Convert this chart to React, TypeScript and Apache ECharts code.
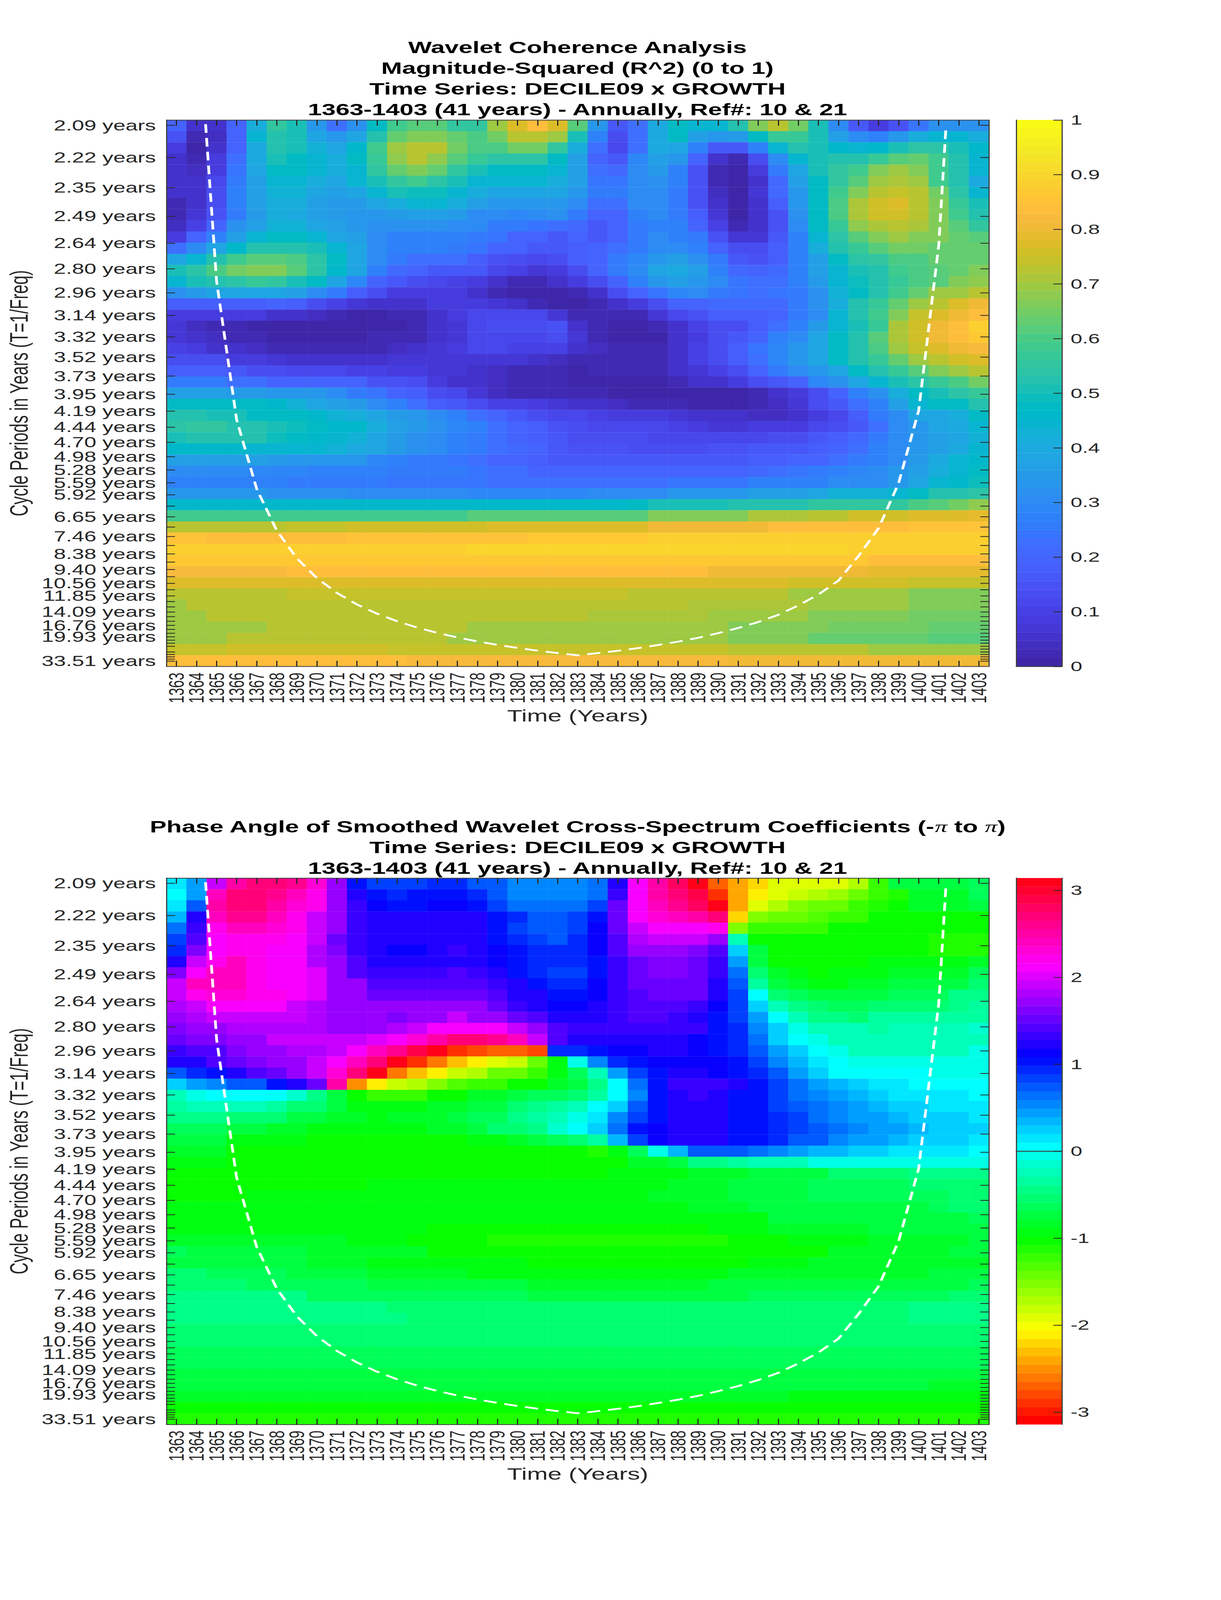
import React, { useEffect, useRef } from "react";
import * as echarts from "echarts";

const r = (v: number, n: number): number[] => Array(n).fill(v);

const years = Array.from({ length: 41 }, (_, i) => String(1363 + i));
const BASE_PERIOD = 2.0944;
const rowCount = 49;
const periodLabels: Record<number, string> = {
  0: "2.09 years", 1: "2.22 years", 2: "2.35 years", 3: "2.49 years", 4: "2.64 years", 5: "2.80 years",
  6: "2.96 years", 7: "3.14 years", 8: "3.32 years", 9: "3.52 years", 10: "3.73 years", 11: "3.95 years",
  12: "4.19 years", 13: "4.44 years", 14: "4.70 years", 15: "4.98 years", 16: "5.28 years", 17: "5.59 years",
  18: "5.92 years", 20: "6.65 years", 22: "7.46 years", 24: "8.38 years", 26: "9.40 years", 28: "10.56 years",
  30: "11.85 years", 33: "14.09 years", 36: "16.76 years", 39: "19.93 years", 43: "25.10 years", 48: "33.51 years",
};
const FREQ_MIN = 0.0254;
const FREQ_MAX = 0.4819;

const coiYears = [1364.45, 1365, 1366, 1367, 1368, 1369, 1370, 1371, 1372, 1373, 1374, 1375, 1376, 1377, 1378, 1379, 1380, 1381, 1382, 1383,
  1384, 1385, 1386, 1387, 1388, 1389, 1390, 1391, 1392, 1393, 1394, 1395, 1396, 1397, 1398, 1399, 1400, 1401, 1401.36];
const coiPeriods = [2.09, 2.88, 4.32, 5.76, 7.2, 8.64, 10.08, 11.52, 12.96, 14.4, 15.84, 17.28, 18.72, 20.16, 21.6, 23.04, 24.48, 25.92, 27.36, 28.8,
  27.4, 26, 24.6, 23.1, 21.7, 20.3, 18.8, 17.4, 16, 14.6, 13.1, 11.7, 10.3, 8.5, 7.1, 5.6, 4.18, 2.65, 2.1];

const coherencePct: number[][] = [
  [20,5,5,20,42,56,50,33,22,32,47,58,62,62,56,56,69,77,83,77,62,33,17,23,40,48,45,45,53,67,72,65,50,30,16,8,15,24,32,32,32],
  [15,3,4,20,44,52,50,38,33,39,52,64,67,67,63,60,65,72,73,69,50,28,14,22,40,47,37,33,35,48,57,57,50,37,30,27,33,41,45,45,41],
  [8,1,5,20,40,52,51,43,39,46,58,69,72,72,65,60,60,65,65,56,42,22,12,22,40,38,27,17,17,27,44,52,50,46,44,46,50,54,54,50,46],
  [6,2,8,22,40,50,48,45,41,48,57,68,72,68,62,57,54,54,54,48,36,19,17,29,37,33,20,6,2,14,31,45,50,52,53,57,62,64,58,53,45],
  [6,4,8,24,38,47,47,44,41,45,55,63,66,63,56,51,48,48,48,44,36,23,21,30,35,28,15,3,0,8,25,39,50,55,59,66,70,67,58,53,44],
  [6,5,12,26,37,44,44,41,39,44,50,55,58,54,50,45,44,44,44,42,36,24,24,30,32,27,15,3,0,5,21,37,48,55,62,70,71,70,58,53,40],
  [5,6,13,28,37,43,43,39,36,39,45,50,49,49,45,42,39,39,39,38,34,25,25,30,31,25,15,4,1,7,21,34,48,58,67,72,74,72,65,54,45],
  [2,5,14,27,36,42,41,37,35,35,38,42,45,45,42,37,34,34,34,34,30,22,22,30,31,26,15,6,1,5,18,34,48,60,71,75,77,73,66,57,50],
  [2,7,15,26,35,41,40,37,35,33,34,35,36,36,35,31,30,29,30,32,25,19,20,27,30,26,18,7,1,5,15,32,48,60,71,75,75,73,66,59,53],
  [4,10,19,32,37,43,43,39,36,33,32,32,32,32,31,30,26,25,24,23,21,17,19,25,28,27,20,10,3,5,15,30,47,57,68,71,73,71,67,61,56],
  [9,19,27,36,44,47,47,44,39,36,31,28,28,28,27,26,24,20,20,17,19,17,20,25,30,28,25,15,7,7,16,28,44,54,62,67,69,67,66,63,61],
  [22,30,38,46,52,53,52,50,44,38,31,28,27,27,25,24,20,19,17,16,18,20,23,26,30,31,28,20,13,13,18,28,41,52,57,62,65,65,63,63,63],
  [38,45,52,58,62,62,60,54,47,38,30,25,22,22,22,18,15,13,12,13,18,20,25,29,34,37,32,25,17,15,18,28,37,48,54,56,60,60,63,63,63],
  [50,54,60,65,67,66,61,54,46,38,28,21,19,17,17,17,12,10,7,9,13,19,25,31,38,40,36,28,21,19,21,28,36,45,50,53,58,60,61,63,66],
  [45,50,52,54,57,55,51,48,38,29,20,16,13,11,10,8,5,3,3,5,9,14,19,27,33,37,34,30,24,23,23,28,35,45,49,53,57,60,62,66,68],
  [32,35,39,39,39,39,36,30,25,18,13,9,8,8,8,6,3,1,0,0,3,6,13,19,24,29,31,26,24,23,24,26,32,43,48,53,58,63,69,70,73],
  [18,18,18,18,18,19,18,14,10,7,5,5,5,8,8,8,7,5,2,1,1,2,5,9,14,19,20,21,21,21,21,25,32,42,52,57,64,70,73,77,80],
  [9,9,9,9,8,6,6,4,2,1,1,2,3,6,9,11,12,12,11,7,3,2,2,3,7,12,15,18,18,18,20,25,31,44,52,58,67,74,78,81,84],
  [7,4,3,2,1,1,0,0,0,0,0,1,2,5,7,11,13,13,14,15,6,3,1,1,3,6,10,14,14,18,23,28,35,44,51,57,71,76,81,84,88],
  [7,6,4,3,2,1,0,0,0,0,2,3,3,6,7,12,12,12,12,13,7,3,1,1,0,5,9,13,17,20,27,30,39,47,52,62,71,76,81,84,87],
  [10,9,6,5,4,3,2,2,2,3,3,4,6,7,9,11,11,10,10,10,5,4,2,2,2,6,10,14,18,24,29,34,39,48,53,60,69,74,77,80,82],
  [13,13,13,9,8,7,6,6,6,6,6,7,7,7,7,7,7,7,6,4,3,3,3,3,3,6,10,13,18,23,29,33,39,47,53,57,64,69,72,76,77],
  [18,18,18,16,14,14,12,12,12,10,10,9,9,7,7,5,4,3,3,2,1,2,2,2,2,5,7,10,13,19,25,31,33,39,47,52,57,62,67,70,72],
  [26,26,26,23,23,20,20,20,19,19,15,15,14,8,6,6,4,3,3,2,1,1,1,1,1,3,5,6,9,13,17,20,29,32,39,45,50,54,57,60,65],
  [37,37,37,35,35,33,33,33,30,26,24,20,18,14,11,7,4,3,3,2,2,2,1,1,1,1,0,1,1,3,6,9,14,20,28,32,41,47,51,54,57],
  [47,48,48,47,47,46,43,39,36,35,31,28,23,18,16,13,10,10,8,7,6,5,4,3,2,2,1,1,1,2,4,7,13,17,22,28,36,44,47,47,53],
  [53,53,50,50,48,48,48,46,43,41,38,35,33,30,27,23,20,17,14,12,11,10,9,9,8,7,6,5,5,4,4,6,9,12,18,25,31,38,39,42,48],
  [54,55,55,53,52,50,49,47,46,46,42,37,35,32,29,27,22,20,18,15,13,12,12,12,11,10,9,7,7,9,9,9,12,14,17,22,30,34,38,40,44],
  [50,53,53,52,52,49,47,46,45,43,38,35,32,30,27,25,22,20,18,16,14,13,13,13,12,11,11,11,11,12,13,14,16,18,21,25,30,33,36,38,43],
  [46,46,46,46,45,45,45,45,43,40,38,35,32,30,28,25,22,21,19,17,15,15,15,14,14,14,14,15,15,16,16,17,18,20,23,27,31,34,37,40,44],
  [36,36,36,36,36,35,34,34,33,33,29,27,26,25,24,22,20,19,18,16,16,16,16,16,16,16,16,16,17,18,18,19,20,22,25,28,30,35,40,44,46],
  [30,30,30,30,29,29,29,28,27,27,27,26,26,26,26,24,23,22,20,20,20,20,19,19,19,19,19,20,20,21,22,24,26,27,29,31,33,37,42,45,47],
  [...r(28,6),...r(26,5),...r(24,5),...r(23,9),...r(24,4),...r(27,4),...r(31,3),34,38,45,46,49],
  [...r(33,5),...r(32,4),...r(31,6),...r(29,6),...r(30,4),...r(33,4),...r(36,3),39,...r(43,3),45,48,52,53,54],
  [...r(46,23),48,...r(50,4),...r(53,4),...r(55,3),...r(56,2),60,62,65,68],
  [...r(58,3),...r(59,12),...r(61,4),...r(62,5),...r(66,3),...r(67,2),...r(71,3),...r(73,2),...r(75,3),...r(77,3),79],
  [...r(73,6),...r(74,3),...r(76,7),...r(78,8),...r(80,3),...r(81,3),...r(83,4),...r(84,3),...r(85,4)],
  [...r(85,2),...r(83,7),...r(85,9),...r(86,6),...r(88,17)],
  [...r(89,15),...r(90,19),...r(88,7)],
  [...r(87,27),...r(86,8),...r(84,6)],
  [...r(82,6),...r(84,21),...r(81,8),...r(79,6)],
  [...r(77,3),...r(78,28),...r(76,6),...r(74,4)],
  [...r(72,6),...r(74,17),...r(72,8),...r(70,6),...r(67,4)],
  [70,...r(72,25),...r(71,6),...r(69,5),...r(66,4)],
  [...r(69,2),...r(72,19),...r(71,6),...r(70,5),...r(67,5),...r(65,4)],
  [...r(70,5),...r(72,10),...r(70,8),...r(69,5),...r(67,5),...r(65,5),...r(63,3)],
  [...r(70,3),...r(72,11),...r(70,8),...r(69,6),...r(67,4),...r(63,6),...r(61,3)],
  [...r(74,3),...r(76,8),...r(74,17),...r(72,7),...r(70,6)],
  [...r(84,12),...r(82,16),...r(81,13)],
];

const phaseRows: number[][] = [
  [.13,.42,1.88,2.5,2.72,2.72,2.65,2.3,1.68,1.05,.84,.84,.84,.91,.91,.77,.72,.52,.52,.52,.52,.63,1.26,2.09,2.5,2.8,3.14,-2.72,-2.37,-2.23,-1.95,-1.88,-1.88,-1.88,-1.75,-1.26,-.77,-.77,-.77,-.77,-.63],
  [0,.42,2.4,2.72,2.72,2.6,2.44,2.2,1.68,1.26,1.05,.98,1.05,1.05,1.05,.9,.77,.56,.52,.52,.52,.63,1.33,2.09,2.5,2.72,2.93,-2.86,-2.37,-2.09,-1.88,-1.78,-1.68,-1.6,-1.47,-1.26,-1.1,-.8,-.8,-.8,-.65],
  [.13,.77,2.5,2.72,2.72,2.5,2.3,2.2,1.68,1.33,1.12,1.05,1.05,1.15,1.15,1.05,.84,.63,.6,.6,.6,.84,1.57,2.09,2.44,2.6,2.8,3.14,-2.37,-1.88,-1.68,-1.57,-1.47,-1.4,-1.26,-1.1,-1.05,-.85,-.85,-.85,-.72],
  [.35,1.19,2.37,2.6,2.6,2.44,2.2,1.95,1.68,1.33,1.19,1.19,1.19,1.19,1.19,1.19,1.05,.91,.7,.7,.84,1.05,1.57,2.09,2.3,2.44,2.5,2.72,-2.23,-1.57,-1.47,-1.4,-1.3,-1.26,-1.2,-1.05,-1.05,-1.02,-1.02,-1.02,-1],
  [.63,1.33,2.22,2.44,2.44,2.3,2.2,1.88,1.68,1.33,1.19,1.19,1.19,1.26,1.26,1.2,1.05,.84,.77,.77,.84,1.12,1.52,1.88,2.09,2.09,2.09,2.22,-1.57,-1.2,-1.2,-1.2,-1.2,-1.05,-1.05,-1.05,-1.05,-1.05,-1.05,-1.05,-1.05],
  [.84,1.4,2.09,2.2,2.2,2.2,2.09,1.88,1.5,1.3,1.19,1.19,1.19,1.25,1.25,1.25,1.05,.98,.84,.77,.9,1.15,1.47,1.8,1.88,1.88,1.88,1.68,-.2,-1.05,-1.05,-1.05,-1.05,-1.05,-1.05,-1.05,-1.05,-1.05,-1.08,-1.1,-1.1],
  [.91,1.6,2.09,2.2,2.2,2.09,2.09,1.83,1.63,1.33,1.2,1.15,1.15,1.2,1.33,1.26,1.12,1.05,.91,.91,.91,1.15,1.44,1.68,1.75,1.75,1.6,1.44,.2,-.77,-1.05,-1.05,-1.05,-1.05,-1.05,-1.05,-1.05,-1.05,-1.08,-1.08,-1.08],
  [1.19,1.95,2.22,2.44,2.2,2.09,2.09,1.83,1.68,1.4,1.19,1.19,1.19,1.26,1.26,1.26,1.12,1.05,.91,.91,.91,1.05,1.3,1.52,1.63,1.63,1.52,1.33,.42,-.7,-1,-1.05,-1.05,-1.05,-1.05,-.95,-.95,-.95,-.95,-.98,-.84],
  [1.6,2.09,2.44,2.44,2.2,2.09,2.09,2,1.75,1.47,1.3,1.3,1.3,1.3,1.4,1.33,1.19,1.05,.98,.84,.84,1.05,1.3,1.5,1.63,1.63,1.52,1.33,.63,-.52,-.85,-.95,-1.05,-.95,-.95,-.95,-.85,-.85,-.85,-.8,-.63],
  [1.95,2.37,2.44,2.44,2.22,2.09,2.09,2,1.75,1.68,1.47,1.47,1.47,1.47,1.47,1.47,1.33,1.19,1.05,.91,.91,1.15,1.33,1.57,1.57,1.57,1.57,1.26,.72,-.35,-.72,-.85,-.93,-.95,-.85,-.85,-.72,-.72,-.72,-.72,-.56],
  [1.95,2.18,2.3,2.3,2.18,2.18,2.09,2,1.75,1.68,1.52,1.52,1.52,1.52,1.52,1.52,1.4,1.26,1.19,1.05,1.05,1.12,1.3,1.44,1.57,1.57,1.5,1.26,.84,0,-.52,-.63,-.7,-.7,-.7,-.7,-.63,-.63,-.63,-.48,-.4],
  [1.83,1.95,2.09,2.09,2.09,2.09,1.95,1.83,1.75,1.68,1.68,1.68,1.68,1.68,1.68,1.68,1.5,1.3,1.22,1.15,1.15,1.22,1.3,1.47,1.47,1.47,1.37,1.15,.84,.2,-.2,-.42,-.52,-.63,-.63,-.52,-.52,-.52,-.52,-.42,-.35],
  [1.75,1.83,1.95,1.95,1.95,1.95,1.95,1.83,1.75,1.75,1.75,1.63,1.75,1.75,1.88,1.75,1.75,1.52,1.44,1.22,1.22,1.26,1.33,1.47,1.47,1.33,1.26,1.05,.84,.42,0,-.2,-.42,-.42,-.52,-.35,-.35,-.35,-.35,-.35,-.35],
  [1.6,1.75,1.75,1.83,1.83,1.83,1.83,1.83,1.7,1.7,1.7,1.83,1.95,2.09,2.15,2.15,2.09,1.88,1.68,1.4,1.3,1.33,1.33,1.33,1.33,1.33,1.33,1.05,.91,.56,.2,-.07,-.2,-.27,-.27,-.38,-.27,-.27,-.27,-.27,-.13],
  [1.5,1.6,1.6,1.75,1.75,1.88,1.88,1.88,1.88,1.88,2.02,2.09,2.3,2.5,2.72,2.72,2.65,2.37,1.88,1.44,1.26,1.26,1.26,1.26,1.26,1.26,1.15,1.05,.91,.63,.28,0,-.07,-.2,-.27,-.27,-.27,-.27,-.27,-.2,-.2],
  [1.3,1.4,1.47,1.6,1.75,1.75,1.83,1.83,1.95,2.09,2.37,2.6,2.9,3.14,-2.9,-2.8,-2.72,-2.72,-2.8,.98,.98,1.05,1.12,1.12,1.25,1.25,1.15,1.05,.91,.77,.42,.2,0,-.08,-.2,-.2,-.2,-.2,-.2,-.2,-.08],
  [1.19,1.26,1.4,1.5,1.6,1.75,1.75,1.95,2.09,2.37,2.72,3.05,-2.86,-2.6,-2.35,-2.15,-1.95,-1.78,-1.4,-.95,-.05,.56,.91,1.05,1.17,1.17,1.17,1.17,1,.84,.56,.35,.13,0,-.07,-.07,-.07,-.07,-.07,-.07,-.07],
  [.77,.91,1.05,1.22,1.4,1.5,1.75,1.95,2.3,2.72,3.14,-2.6,-2.35,-2.09,-1.85,-1.68,-1.47,-1.4,-1.2,-.95,-.63,-.2,.4,.84,1.05,1.26,1.26,1.15,1.05,.91,.77,.42,.2,.07,0,0,0,0,-.07,-.07,-.07],
  [.2,.42,.56,.7,.77,1,1.19,1.52,2.5,-2.55,-2.09,-1.85,-1.68,-1.57,-1.35,-1.26,-1.2,-1.05,-1.05,-.85,-.72,-.42,0,.63,1.05,1.33,1.33,1.33,1.22,1.05,.84,.63,.42,.3,.2,.1,.1,0,0,0,0],
  [-.2,-.07,0,0,0,0,-.13,-.42,-.77,-1.05,-1.2,-1.2,-1.2,-1.05,-1,-.87,-.87,-.77,-.63,-.63,-.5,-.35,0,.52,1,1.19,1.3,1.22,1.05,1.05,.84,.63,.52,.42,.3,.2,.1,.1,.1,.1,0],
  [-.35,-.28,-.28,-.28,-.28,-.35,-.52,-.52,-.77,-.93,-.93,-.93,-.93,-.87,-.87,-.72,-.72,-.52,-.42,-.35,-.2,0,.2,.7,1,1.19,1.19,1.19,1.05,1.05,.84,.77,.63,.52,.42,.35,.2,.2,.1,.1,.1],
  [-.42,-.42,-.42,-.5,-.55,-.55,-.7,-.7,-.87,-.87,-.95,-.87,-.87,-.87,-.72,-.63,-.63,-.42,-.35,-.2,-.05,.1,.52,.84,1.05,1.19,1.19,1.19,1.05,1.05,.91,.84,.63,.52,.42,.42,.35,.2,.2,.2,.1],
  [-.65,-.65,-.65,-.72,-.72,-.87,-.87,-.95,-.95,-.95,-.95,-.95,-.95,-.87,-.87,-.72,-.55,-.55,-.42,-.13,0,.2,.63,1,1.12,1.26,1.26,1.19,1.05,1.05,.91,.84,.77,.63,.56,.42,.42,.35,.22,.22,.22],
  [-.77,-.77,-.77,-.98,-.98,-.98,-.98,...r(-1.05,8),-.93,-.93,-.8,-.7,-.63,-.55,-.35,.35,.84,1.12,1.26,1.26,1.19,1.05,1.05,.98,.77,.7,.56,.45,.45,.35,.22,.22,.22,.1],
  [-.87,-.87,-.87,...r(-1.05,5),...r(-1.07,13),-1.1,-.95,-.63,-.07,.35,.7,.7,.7,.63,.52,.42,.3,.3,.2,.2,.1,.1,.1,.1,0],
  [...r(-.95,3),...r(-1,6),...r(-1.07,14),...r(-.85,2),-.7,...r(-.45,2),-.3,...r(-.2,3),...r(-.08,9)],
  [...r(-1.03,9),...r(-1.05,13),...r(-.95,4),...r(-.8,3),...r(-.7,4),...r(-.55,4),...r(-.45,4)],
  [...r(-1.05,10),...r(-.93,15),...r(-.85,3),...r(-.77,4),...r(-.68,5),...r(-.55,4)],
  [...r(-1.05,4),...r(-.95,20),...r(-.85,4),...r(-.77,4),...r(-.68,4),...r(-.6,3),...r(-.5,2)],
  [...r(-.98,26),...r(-.88,3),...r(-.78,5),...r(-.7,4),-.65,...r(-.55,2)],
  [...r(-.93,5),...r(-.98,23),...r(-.9,2),...r(-.78,8),...r(-.7,2),-.6],
  [...r(-.9,6),...r(-.95,7),...r(-1.05,14),...r(-.98,3),...r(-.85,5),...r(-.75,5),-.7],
  [...r(-.85,9),...r(-.9,3),...r(-1.05,4),...r(-1.1,12),...r(-1,3),...r(-.95,4),...r(-.8,5),-.75],
  [-.62,...r(-.72,3),...r(-.78,3),...r(-.88,6),...r(-1,5),...r(-1.07,11),...r(-1,4),...r(-.85,6),...r(-.77,2)],
  [...r(-.72,4),...r(-.78,3),...r(-.82,3),...r(-.93,8),...r(-1,11),...r(-.93,3),...r(-.8,9)],
  [...r(-.55,2),...r(-.65,4),...r(-.7,4),...r(-.8,5),...r(-.93,13),...r(-.85,6),...r(-.8,4),...r(-.75,3)],
  [...r(-.55,4),...r(-.65,6),...r(-.72,8),...r(-.82,9),...r(-.78,8),...r(-.72,5),-.62],
  [...r(-.48,7),...r(-.62,11),...r(-.72,11),...r(-.62,10),...r(-.55,2)],
  [...r(-.42,11),...r(-.55,26),...r(-.45,4)],
  [...r(-.42,12),...r(-.55,25),...r(-.45,4)],
  r(-.53,41),
  r(-.55,41),
  r(-.67,41),
  r(-.68,41),
  [...r(-.7,30),...r(-.75,11)],
  [...r(-.75,38),...r(-.82,3)],
  [...r(-.82,31),...r(-.9,10)],
  r(-1.02,41),
  r(-1.17,41),
];

const PARULA: number[][] = [
  [.2422,.1504,.6603],[.2504,.165,.7076],[.2578,.1818,.7511],[.2647,.1978,.7952],[.2706,.2147,.8364],[.2751,.2342,.871],[.2783,.2559,.8991],[.2803,.2782,.9221],
  [.2813,.3006,.9414],[.281,.3228,.9579],[.2795,.3447,.9717],[.276,.3667,.9829],[.2699,.3892,.9906],[.2602,.4123,.9952],[.244,.4358,.9988],[.2206,.4603,.9973],
  [.1963,.4847,.9892],[.1834,.5074,.9798],[.1786,.5289,.9682],[.1764,.5499,.952],[.1687,.5703,.9359],[.154,.5902,.9218],[.146,.6091,.9079],[.138,.6276,.8973],
  [.1248,.6459,.8883],[.1113,.6635,.8763],[.0952,.6798,.8598],[.0689,.6948,.8394],[.0297,.7082,.8163],[.0036,.7203,.7917],[.0067,.7312,.766],[.0433,.7411,.7394],
  [.0964,.75,.712],[.1408,.7584,.6842],[.1717,.767,.6554],[.1938,.7758,.6251],[.2161,.7843,.5923],[.247,.7918,.5567],[.2906,.7973,.5188],[.3406,.8008,.4789],
  [.3909,.8029,.4354],[.4456,.8024,.3909],[.5044,.7993,.348],[.5616,.7942,.3045],[.6174,.7876,.2612],[.672,.7793,.2227],[.7242,.7698,.191],[.7738,.7598,.1646],
  [.8203,.7498,.1535],[.8634,.7406,.1596],[.9035,.733,.1774],[.9393,.7288,.21],[.9728,.7298,.2394],[.9956,.7434,.2371],[.997,.7659,.2199],[.9952,.7861,.199],
  [.9892,.8135,.1888],[.9786,.8386,.1766],[.9676,.8639,.1643],[.961,.889,.1537],[.9597,.9135,.1423],[.9628,.9373,.1265],[.9691,.9606,.1064],[.9769,.9839,.0805],
];
const toHex = (c: number[]) => "#" + c.map((v) => Math.round(v * 255).toString(16).padStart(2, "0")).join("");
const parulaColors = PARULA.map(toHex);
const hsvColors = Array.from({ length: 64 }, (_, i) => {
  const h = (i / 64) * 6;
  const x = 1 - Math.abs((h % 2) - 1);
  const t = [[1, x, 0], [x, 1, 0], [0, 1, x], [0, x, 1], [x, 0, 1], [1, 0, x]][Math.floor(h)];
  return toHex(t);
});

const FONT = "Liberation Sans";
const INK = "#262626";
const LINE = { lineStyle: { color: "#404040", width: 3 } };
const PAGE_W = 3125, PAGE_H = 6252;
const PANEL_LEFT = 426, PANEL_W = 2105, BAR_LEFT = 2601, BAR_W = 117, PANEL_H = 2135;
const tops = [469, 3431];

const freqOf = (k: number) => 1 / (BASE_PERIOD * Math.pow(2, k / 12));
const tickFreqs = Array.from({ length: rowCount }, (_, k) => freqOf(k));
const labelFreqs = Object.keys(periodLabels).map((k) => freqOf(Number(k)));
const labelForFreq = (v: number) => {
  for (const k of Object.keys(periodLabels)) {
    if (Math.abs(freqOf(Number(k)) - v) < 1e-6) return periodLabels[Number(k)];
  }
  return "";
};

const rowLabels = Array.from({ length: rowCount }, (_, i) => String(i));
const pieces = (min: number, max: number, colors: string[]) =>
  colors.map((color, i) => ({
    gte: min + ((max - min) * i) / 64,
    lt: i === 63 ? max + 1 : min + ((max - min) * (i + 1)) / 64,
    color,
  }));

function buildOption() {
  const grid: any[] = [];
  const xAxis: any[] = [];
  const yAxis: any[] = [];
  const series: any[] = [];
  const visualMap: any[] = [];
  const tickBase = { show: true, inside: true, length: 22, lineStyle: { color: INK, width: 3 } };

  const panel = (p: number, rows: number[][], colors: string[], min: number, max: number, ticks: number[], fmt: (v: number) => string) => {
    const top = tops[p];
    const gMain = grid.length;
    grid.push({ left: PANEL_LEFT, top, width: PANEL_W, height: PANEL_H, containLabel: false });
    const gBar = grid.length;
    grid.push({ left: BAR_LEFT, top, width: BAR_W, height: PANEL_H, containLabel: false });

    const xBottom = xAxis.length;
    xAxis.push({
      gridIndex: gMain, type: "category", position: "bottom", data: years, z: 10, axisLine: { show: true, ...LINE },
      axisTick: { ...tickBase, alignWithLabel: true, interval: 0 },
      axisLabel: { interval: 0, rotate: 90, fontSize: 54, fontFamily: FONT, color: INK, margin: 24 },
      name: "Time (Years)", nameLocation: "middle", nameGap: 161, nameTextStyle: { fontSize: 64, fontFamily: FONT, color: INK, verticalAlign: "top" },
    });
    xAxis.push({
      gridIndex: gMain, type: "category", position: "top", data: years, z: 10, axisLine: { show: true, ...LINE },
      axisTick: { ...tickBase, alignWithLabel: true, interval: 0 }, axisLabel: { show: false },
    });
    const xValue = xAxis.length;
    xAxis.push({ gridIndex: gMain, type: "value", position: "bottom", min: 1362.5, max: 1403.5, show: false });
    const xBar = xAxis.length;
    xAxis.push({ gridIndex: gBar, type: "category", position: "bottom", data: [""], z: 10, axisLine: { show: true, ...LINE }, axisTick: { show: false }, axisLabel: { show: false } });
    xAxis.push({ gridIndex: gBar, type: "category", position: "top", data: [""], z: 10, axisLine: { show: true, ...LINE }, axisTick: { show: false }, axisLabel: { show: false } });

    const yRows = yAxis.length;
    yAxis.push({ gridIndex: gMain, type: "category", inverse: true, data: rowLabels, show: false });
    const yFreq = yAxis.length;
    yAxis.push({
      gridIndex: gMain, type: "value", position: "left", min: FREQ_MIN, max: FREQ_MAX, z: 10, splitLine: { show: false },
      axisLine: { show: true, ...LINE },
      axisTick: { ...tickBase, customValues: tickFreqs },
      axisLabel: { customValues: labelFreqs, formatter: labelForFreq, fontSize: 56, fontFamily: FONT, color: INK, margin: 27, showMinLabel: true, showMaxLabel: true },
      name: "Cycle Periods in Years (T=1/Freq)", nameLocation: "middle", nameRotate: 90, nameGap: 345,
      nameTextStyle: { fontSize: 64, fontFamily: FONT, color: INK },
    });
    yAxis.push({
      gridIndex: gMain, type: "value", position: "right", min: FREQ_MIN, max: FREQ_MAX, z: 10, splitLine: { show: false },
      axisLine: { show: true, ...LINE }, axisTick: { ...tickBase, customValues: tickFreqs }, axisLabel: { show: false },
    });
    const yBarCat = yAxis.length;
    yAxis.push({ gridIndex: gBar, type: "category", data: colors.map((_, i) => String(i)), show: false });
    yAxis.push({
      gridIndex: gBar, type: "value", position: "right", min, max, z: 10, splitLine: { show: false },
      axisLine: { show: true, ...LINE }, axisTick: { ...tickBase, customValues: ticks },
      axisLabel: { customValues: ticks, formatter: fmt, fontSize: 54, fontFamily: FONT, color: INK, margin: 22, showMinLabel: true, showMaxLabel: true },
    });
    yAxis.push({
      gridIndex: gBar, type: "value", position: "left", min, max, z: 10, splitLine: { show: false },
      axisLine: { show: true, ...LINE }, axisTick: { show: false }, axisLabel: { show: false },
    });

    const s0 = series.length;
    const cells: number[][] = [];
    rows.forEach((row, j) => row.forEach((v, i) => cells.push([i, j, v])));
    series.push({ type: "heatmap", xAxisIndex: xBottom, yAxisIndex: yRows, data: cells, progressive: 0, itemStyle: { borderWidth: 0 }, emphasis: { disabled: true } });
    series.push({
      type: "heatmap", xAxisIndex: xBar, yAxisIndex: yBarCat, progressive: 0, itemStyle: { borderWidth: 0 }, emphasis: { disabled: true },
      data: colors.map((_, i) => [0, i, min + ((max - min) * (i + 0.5)) / 64]),
    });
    series.push({
      type: "line", xAxisIndex: xValue, yAxisIndex: yFreq, showSymbol: false, symbol: "none", z: 8,
      data: coiYears.map((y, i) => [y, 1 / coiPeriods[i]]),
      lineStyle: { color: "#ffffff", width: 7, type: [34, 20] },
    });
    visualMap.push({ type: "piecewise", show: false, dimension: 2, seriesIndex: [s0, s0 + 1], pieces: pieces(min, max, colors) });
  };

  panel(0, coherencePct.map((row) => row.map((v) => v / 100)), parulaColors, 0, 1,
    [0, .1, .2, .3, .4, .5, .6, .7, .8, .9, 1], (v) => String(Math.round(v * 10) / 10));
  panel(1, phaseRows, hsvColors, -Math.PI, Math.PI, [-3, -2, -1, 0, 1, 2, 3], (v) => String(v));

  const titleStyle = { fontSize: 64, fontWeight: "bold" as const, fontFamily: FONT, color: "#000000", lineHeight: 81 };
  return {
    animation: false,
    backgroundColor: "#ffffff",
    title: [
      { left: 1478, top: 145, textAlign: "center", padding: 0,
        text: "Wavelet Coherence Analysis\nMagnitude-Squared (R^2) (0 to 1)\nTime Series: DECILE09 x GROWTH\n1363-1403 (41 years) - Annually, Ref#: 10 & 21",
        textStyle: titleStyle },
      { left: 1478, top: 3189, textAlign: "center", padding: 0,
        text: "Phase Angle of Smoothed Wavelet Cross-Spectrum Coefficients (-{p|π} to {p|π})\nTime Series: DECILE09 x GROWTH\n1363-1403 (41 years) - Annually, Ref#: 10 & 21",
        textStyle: { ...titleStyle, rich: { p: { fontSize: 64, fontFamily: "Liberation Serif", fontStyle: "italic", fontWeight: "normal", color: "#000000", lineHeight: 81 } } } },
    ],
    grid, xAxis, yAxis, series, visualMap,
  };
}

export default function App() {
  const ref = useRef<HTMLDivElement>(null);
  useEffect(() => {
    document.body.style.margin = "0";
    const chart = echarts.init(ref.current!, null, { renderer: "svg" });
    chart.setOption(buildOption() as any);
    return () => chart.dispose();
  }, []);
  // Drawn at the reference's 3125x6252; compressed vertically only if the window is shorter than that.
  const scaleY = Math.min(1, window.innerHeight / PAGE_H);
  return (
    <div style={{ width: PAGE_W, height: PAGE_H * scaleY, overflow: "hidden" }}>
      <div ref={ref} style={{ width: PAGE_W, height: PAGE_H, transform: `scaleY(${scaleY})`, transformOrigin: "top left" }} />
    </div>
  );
}
